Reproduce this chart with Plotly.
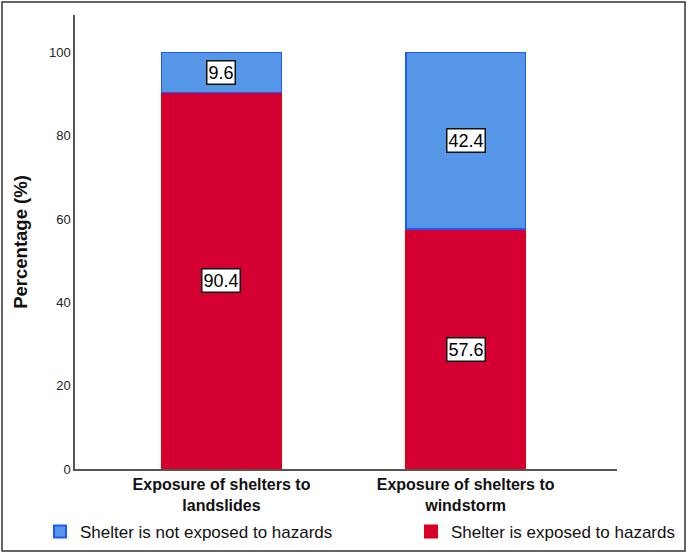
import plotly.graph_objects as go

categories = ["Exposure of shelters to<br>landslides", "Exposure of shelters to<br>windstorm"]
exposed = [90.4, 57.6]
not_exposed = [9.6, 42.4]
series_names = ["Shelter is not exposed to hazards", "Shelter is exposed to hazards"]
y_ticks = [0, 20, 40, 60, 80, 100]

FONT = "Liberation Sans, Arial"

fig = go.Figure()
fig.add_trace(go.Bar(
    x=categories, y=exposed, name=series_names[1],
    marker=dict(color="#D50032", line=dict(color="#E00010", width=1.5)),
    width=0.49, legend="legend2", showlegend=True,
))
fig.add_trace(go.Bar(
    x=categories, y=not_exposed, name=series_names[0],
    marker=dict(color="#5596E6", line=dict(color="#1E5AF5", width=1.5)),
    width=0.49, legend="legend", showlegend=True,
))

annotations = []
for i, c in enumerate(categories):
    for base, val in [(0, exposed[i]), (exposed[i], not_exposed[i])]:
        annotations.append(dict(
            x=c, y=base + val / 2, xref="x", yref="y", text=f"{val:.1f}",
            showarrow=False, font=dict(family=FONT, size=18, color="#000"),
            bgcolor="white", bordercolor="#111", borderwidth=1.5, borderpad=1,
        ))

legend_common = dict(
    orientation="h", yanchor="middle", y=-0.1388, xanchor="left",
    font=dict(size=17, color="#111", family=FONT), itemsizing="constant",
    bgcolor="rgba(0,0,0,0)", visible=True,
)

fig.update_layout(
    barmode="stack",
    showlegend=True,
    width=688, height=554,
    margin=dict(l=75, r=71, t=15, b=85, autoexpand=False),
    plot_bgcolor="white", paper_bgcolor="white",
    font=dict(family=FONT, color="#222"),
    annotations=annotations,
    legend=dict(x=-0.0646, **legend_common),
    legend2=dict(x=0.6199, **legend_common),
    shapes=[dict(type="rect", xref="paper", yref="paper",
                 x0=-0.1347, x1=1.1255, y0=-0.1806, y1=1.0286,
                 line=dict(color="#333", width=1.5), layer="above")],
)
fig.update_xaxes(
    range=[-0.6, 1.62], showline=True, linecolor="#555", linewidth=1.5,
    tickfont=dict(size=16, color="#111", family=FONT),
    ticks="", showgrid=False, tickprefix="<b>", ticksuffix="</b>",
)
fig.update_yaxes(
    range=[0, 109], tickvals=y_ticks, showline=True, linecolor="#555", linewidth=1.5,
    tickfont=dict(size=13, color="#222", family=FONT), ticks="", showgrid=False, zeroline=False,
    title=dict(text="<b>Percentage (%)</b>", font=dict(size=18.5, color="#111", family=FONT), standoff=16),
)

fig.write_html("out.html", post_script="document.body.style.margin='0';",
               config={"displayModeBar": False})
